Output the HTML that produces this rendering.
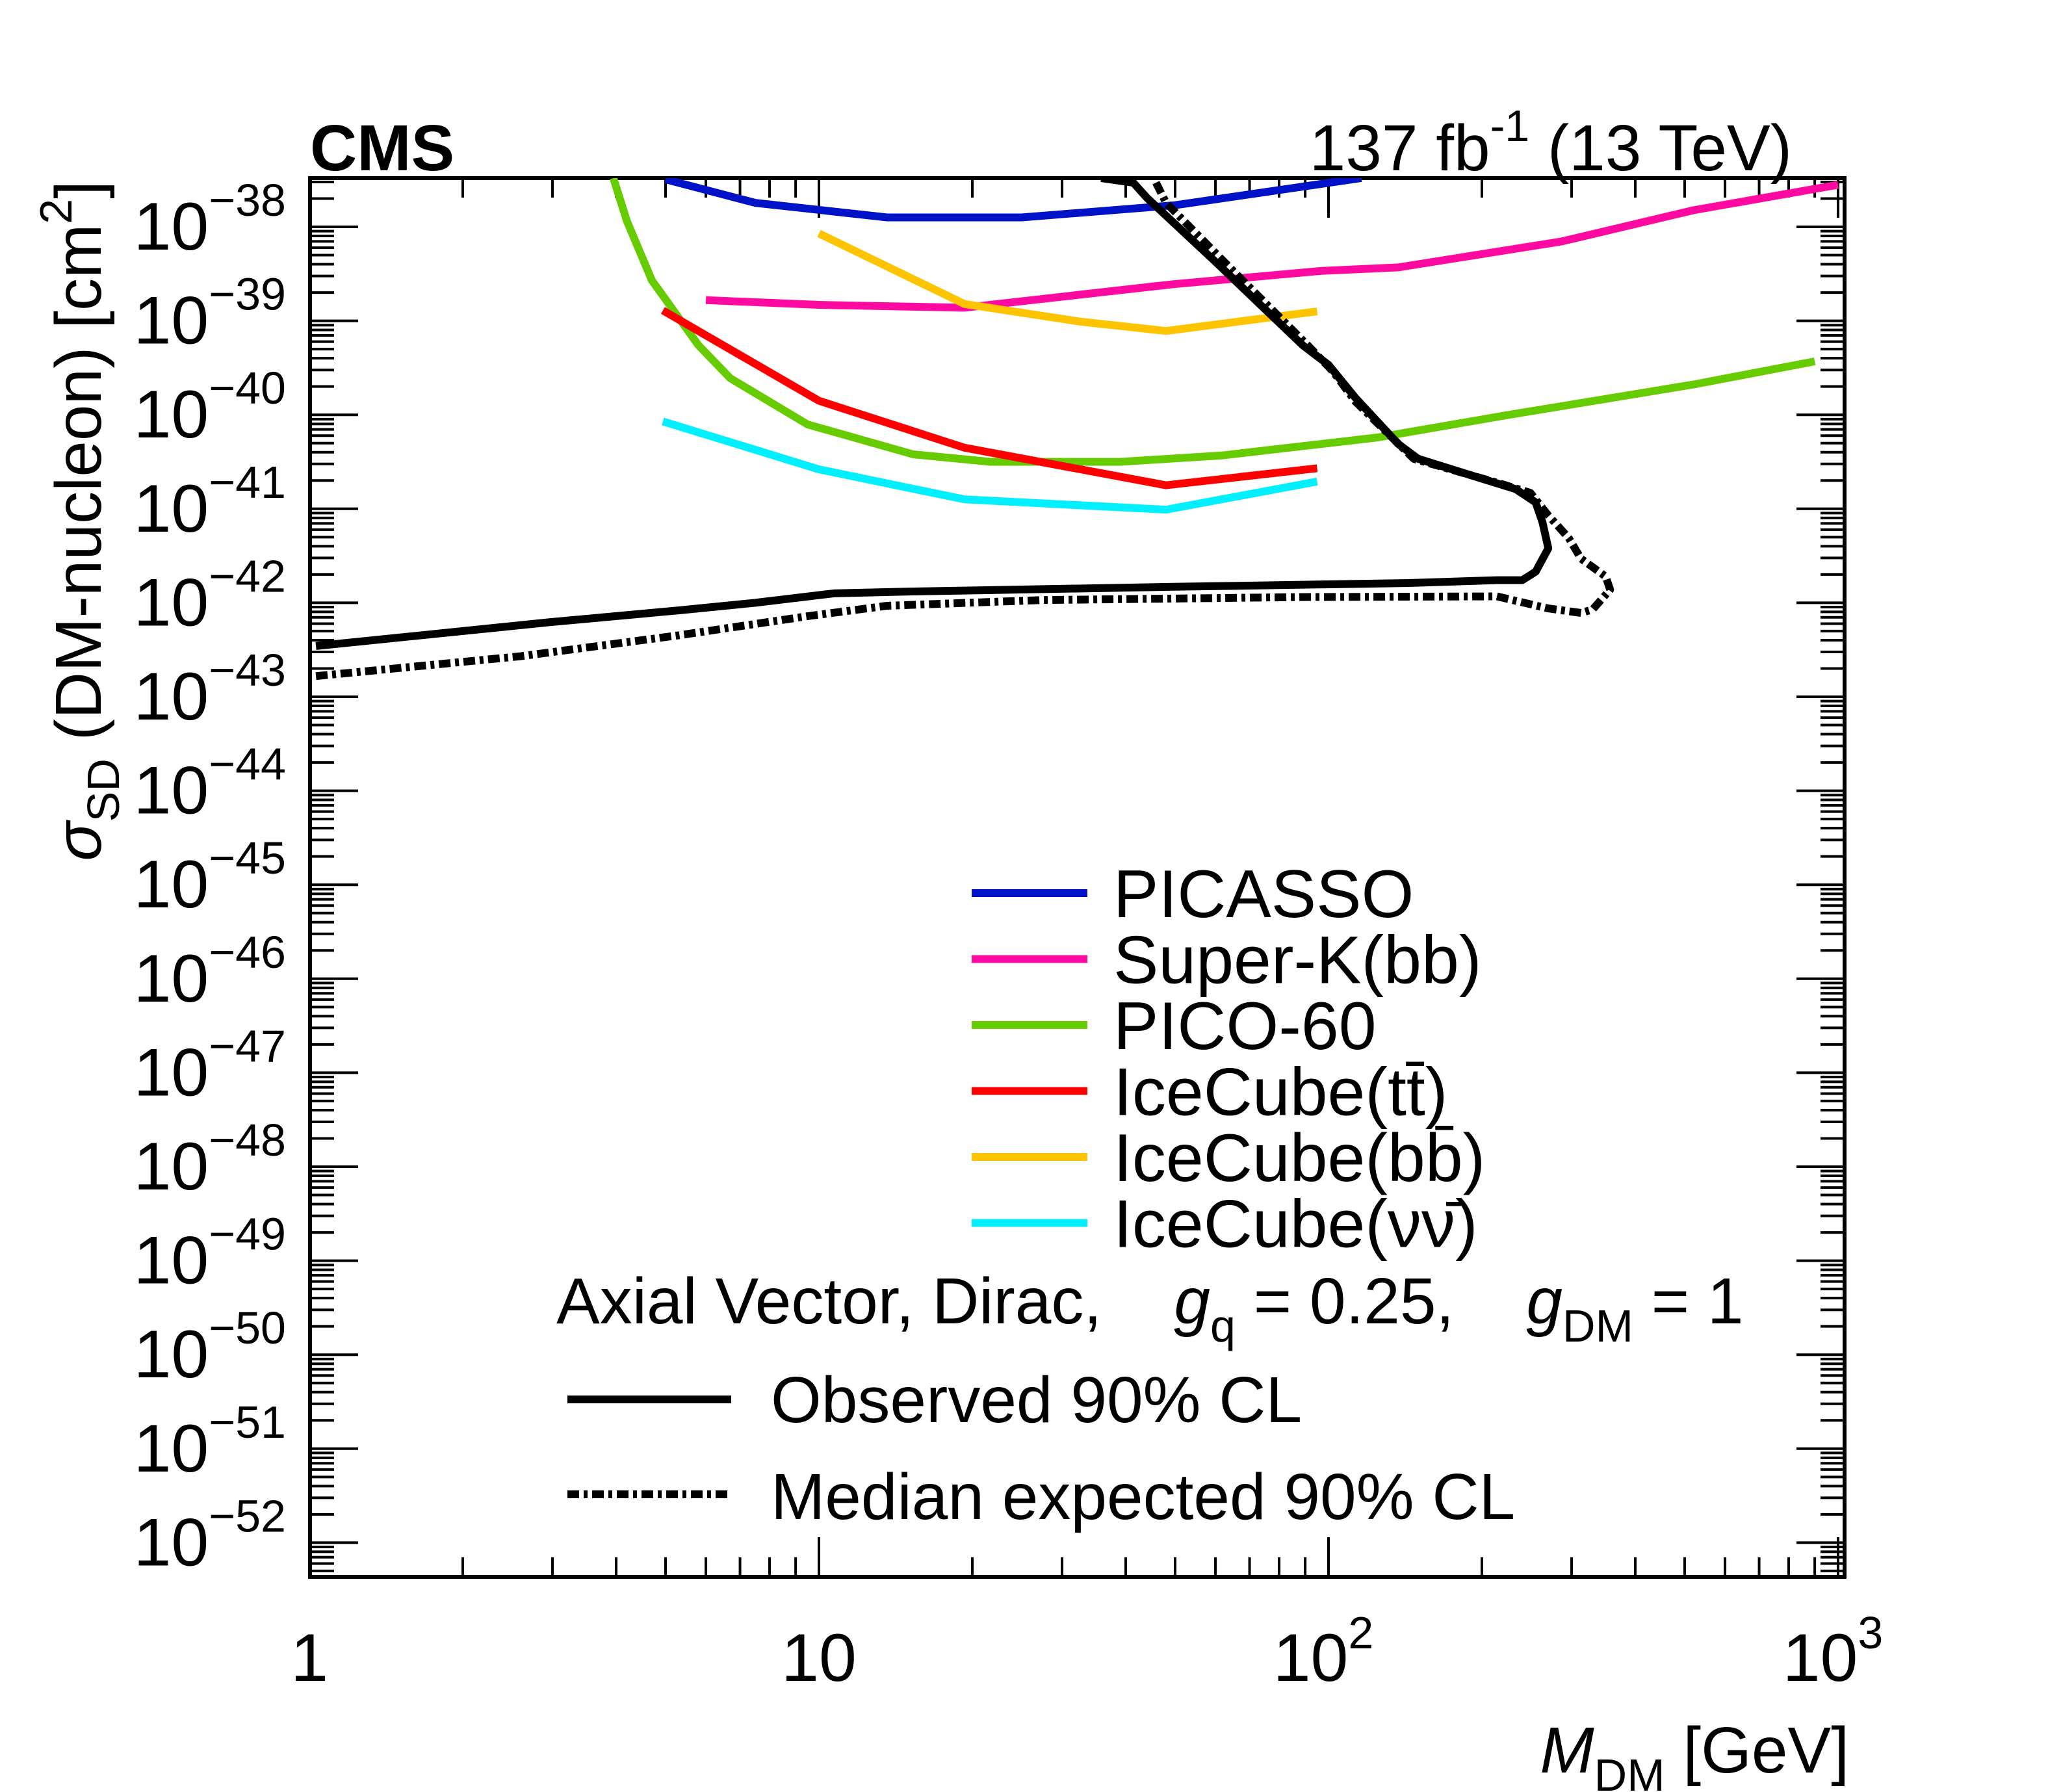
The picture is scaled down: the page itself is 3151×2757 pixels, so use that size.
<!DOCTYPE html>
<html><head><meta charset="utf-8"><style>
html,body{margin:0;padding:0;background:#fff}
svg{display:block;font-family:"Liberation Sans",sans-serif}
</style></head><body>
<svg id="chart" width="3151" height="2757" viewBox="0 0 3151 2757" xmlns="http://www.w3.org/2000/svg">
<g id="plot"></g>
</svg>
<script>
const xTickValues=[1,10,100,1000];
const xTickLabels=["1","10","10","10"];
const xTickExps=["","","2","3"];
const yTickExps=[-38,-39,-40,-41,-42,-43,-44,-45,-46,-47,-48,-49,-50,-51,-52];
const picasso=[[5,3.2e-38],[7.5,1.8e-38],[13.6,1.26e-38],[25,1.26e-38],[50,1.7e-38],[116,3.3e-38]];
const superK=[[6,1.66e-39],[10,1.48e-39],[19.3,1.38e-39],[49.5,2.45e-39],[97,3.4e-39],[137,3.7e-39],[287,7e-39],[520,1.5e-38],[1000,2.8e-38]];
const pico60=[[3.95,3.3e-38],[4.2,1.15e-38],[4.7,2.7e-39],[5.8,5.5e-40],[6.7,2.45e-40],[9.5,7.9e-41],[15.3,3.8e-41],[21.7,3.16e-41],[39,3.16e-41],[62,3.7e-41],[125,5.75e-41],[226,1e-40],[520,2.1e-40],[900,3.7e-40]];
const iceTT=[[4.94,1.29e-39],[10,1.41e-40],[19.3,4.47e-41],[48,1.78e-41],[95,2.7e-41]];
const iceBB=[[10,8.5e-39],[19.3,1.51e-39],[32.6,9.8e-40],[48,7.8e-40],[95,1.26e-39]];
const iceNN=[[4.94,8.5e-41],[10,2.63e-41],[19.3,1.26e-41],[48,9.8e-42],[95,1.95e-41]];
const observed=[[1.03,3.47e-43],[2.95,6.2e-43],[5.3,8.3e-43],[7.5,1e-42],[10.7,1.26e-42],[15.3,1.32e-42],[49.5,1.48e-42],[142,1.62e-42],[214,1.74e-42],[240,1.74e-42],[255,2.14e-42],[270,3.8e-42],[263,7.2e-42],[255,1.17e-41],[233,1.62e-41],[203,2.04e-41],[150,3.4e-41],[137,4.9e-41],[113,1.51e-40],[100,3.4e-40],[89,5.5e-40],[59.6,4.4e-39],[44,2.04e-38],[41.4,2.95e-38],[35.8,3.3e-38]];
const expected=[[1.03,1.66e-43],[2.6,2.7e-43],[5.3,4.5e-43],[9.5,7.2e-43],[13.6,9.3e-43],[27.4,1.07e-42],[89,1.15e-42],[214,1.17e-42],[233,1.05e-42],[270,8.7e-43],[313,7.8e-43],[330,8.5e-43],[357,1.38e-42],[350,1.9e-42],[313,2.95e-42],[296,4.9e-42],[270,8.5e-42],[249,1.48e-41],[214,1.9e-41],[147,3.4e-41],[113,1.38e-40],[102,2.9e-40],[91,5.5e-40],[64,3.7e-39],[48,1.8e-38],[45.4,3.3e-38]];

const NS="http://www.w3.org/2000/svg";
const L=477,R=2838,T=274,B=2426;
const X0=476,XD=784;
const Y38=349,YD=144.6;
function xs(v){return X0+Math.log10(v)*XD;}
function ys(v){return Y38+(-38-Math.log10(v))*YD;}
const g=document.getElementById('plot');
function mk(tag,attrs,parent){const e=document.createElementNS(NS,tag);for(const k in attrs)e.setAttribute(k,attrs[k]);(parent||g).appendChild(e);return e;}

const defs=mk('defs',{});
const cp=mk('clipPath',{id:'clip'},defs);
mk('rect',{x:L,y:T,width:R-L,height:B-T},cp);

const tk=mk('g',{stroke:'#000','stroke-width':4});


for(let d=0;d<=3;d++){for(let m=1;m<=9;m++){const v=m*Math.pow(10,d);const x=xs(v);if(x<L||x>R)continue;const len=m===1?61:30;
mk('line',{x1:x,x2:x,y1:B,y2:B-len},tk);mk('line',{x1:x,x2:x,y1:T,y2:T+len},tk);}}
for(let e=-53;e<=-37;e++){for(let m=1;m<=9;m++){const v=m*Math.pow(10,e);const y=ys(v);if(y<T||y>B)continue;const len=m===1?74:37;
mk('line',{x1:L,x2:L+len,y1:y,y2:y},tk);mk('line',{x1:R,x2:R-len,y1:y,y2:y},tk);}}

const fr=mk('rect',{x:L,y:T,width:R-L,height:B-T,fill:'none',stroke:'#000','stroke-width':6});



xTickValues.forEach((v,i)=>{const t=mk('text',{x:xs(v),y:2586,'font-size':104,'text-anchor':'middle'});


t.textContent=xTickLabels[i];
if(xTickExps[i]){const s=mk('tspan',{'font-size':70,dy:-50},t);s.textContent=xTickExps[i];t.setAttribute('x',xs(v)-8);}
});
yTickExps.forEach(e=>{const y=ys(Math.pow(10,e));const t=mk('text',{x:440,y:y+35,'font-size':104,'text-anchor':'end'});


const a=mk('tspan',{},t);a.textContent='10';const s=mk('tspan',{'font-size':70,dy:-52},t);s.textContent='\u2212'+(-e);});

function series(data,color,name,dash){const d=data.map((p,i)=>(i?'L':'M')+xs(p[0]).toFixed(1)+' '+ys(p[1]).toFixed(1)).join(' ');
const p=mk('path',{d:d,fill:'none',stroke:color,'stroke-width':12,'clip-path':'url(#clip)','stroke-linejoin':'round'});
if(dash)p.setAttribute('stroke-dasharray',dash);

}
series(picasso,'#0012c8','picasso-line');
series(superK,'#ff0aa0','super-k-line');
series(pico60,'#66cc00','pico-60-line');
series(iceTT,'#ff0000','icecube-tt-line');
series(iceBB,'#ffc400','icecube-bb-line');
series(iceNN,'#00f0ff','icecube-nunu-line');
series(observed,'#000','observed-line');
series(expected,'#000','expected-line','18 7 6 7');

const leg=[['PICASSO','#0012c8'],['Super-K(bb)','#ff0aa0'],['PICO-60','#66cc00'],['IceCube(tt\u0304)','#ff0000'],['IceCube(bb\u0304)','#ffc400'],['IceCube(\u03bd\u03bd\u0304)','#00f0ff']];
leg.forEach((l,i)=>{const y=1374+i*101.5;
const ln=mk('line',{x1:1495,x2:1673,y1:y,y2:y,stroke:l[1],'stroke-width':12});


const t=mk('text',{x:1713,y:y+37,'font-size':104});


t.textContent=l[0];});
</script>
<script>
(function(){const s=document.getElementById('chart');const NS="http://www.w3.org/2000/svg";
function tx(html,attrs,name){const t=document.createElementNS(NS,'text');for(const k in attrs)t.setAttribute(k,attrs[k]);t.innerHTML=html;


s.appendChild(t);return t;}
tx('CMS',{x:477,y:262,'font-size':100,'font-weight':'bold'},'cms-label');
tx('137 fb<tspan font-size="68" dy="-45">-1</tspan><tspan dy="45"> (13 TeV)</tspan>',{x:2757,y:262,'font-size':100,'text-anchor':'end'},'lumi-label');
tx('Axial Vector, Dirac,\u00a0\u00a0\u00a0\u00a0<tspan font-style="italic">g</tspan><tspan font-size="70" dy="28">q</tspan><tspan dy="-28"> = 0.25,\u00a0\u00a0\u00a0\u00a0</tspan><tspan font-style="italic">g</tspan><tspan font-size="70" dy="28">DM</tspan><tspan dy="-28"> = 1</tspan>',{x:856,y:2036,'font-size':100},'model-label');
tx('Observed 90% CL',{x:1186,y:2188,'font-size':100},'observed-legend-entry');
tx('Median expected 90% CL',{x:1186,y:2337,'font-size':100},'expected-legend-entry');
tx('<tspan font-style="italic">M</tspan><tspan font-size="70" dy="28">DM</tspan><tspan dy="-28"> [GeV]</tspan>',{x:2845,y:2727,'font-size':100,'text-anchor':'end'},'x-axis-title');
tx('<tspan font-style="italic">σ</tspan><tspan font-size="70" dy="28">SD</tspan><tspan dy="-28"> (DM-nucleon) [cm</tspan><tspan font-size="70" dy="-45">2</tspan><tspan dy="45">]</tspan>',{x:0,y:0,'font-size':100,'text-anchor':'end',transform:'translate(155,278) rotate(-90)'},'y-axis-title');
function ln(x1,x2,y,dash,name){const l=document.createElementNS(NS,'line');l.setAttribute('x1',x1);l.setAttribute('x2',x2);l.setAttribute('y1',y);l.setAttribute('y2',y);l.setAttribute('stroke','#000');l.setAttribute('stroke-width',12);if(dash)l.setAttribute('stroke-dasharray',dash);


s.appendChild(l);}
ln(873,1125,2153,null,'observed-legend-swatch');
ln(873,1125,2299,'18 7 6 7','expected-legend-swatch');
})();
</script>
</body></html>
